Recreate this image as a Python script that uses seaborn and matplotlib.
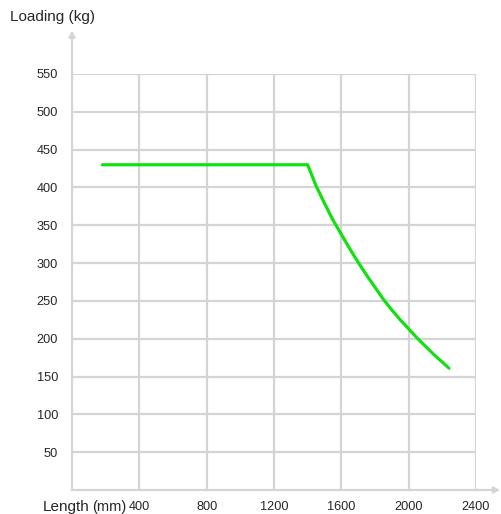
import matplotlib
matplotlib.use("Agg")
import matplotlib.pyplot as plt
import seaborn as sns
import pandas as pd

# Load curve: arm length (mm) vs. permitted load (kg)
length_mm = [180, 1400, 1450, 1500, 1550, 1600, 1650, 1700, 1750, 1800, 1850,
             1900, 1950, 2000, 2050, 2100, 2150, 2200, 2240]
loading_kg = [430, 430, 402, 379, 357, 338, 319, 301, 284, 268, 252,
              238, 225, 213, 201, 190, 179, 169, 161]

x_ticks = [400, 800, 1200, 1600, 2000, 2400]
y_ticks = [50, 100, 150, 200, 250, 300, 350, 400, 450, 500, 550]

sns.set_style("white")
plt.rcParams["font.family"] = ["Liberation Sans", "DejaVu Sans"]

W, H = 502, 514
fig = plt.figure(figsize=(W / 100, H / 100), dpi=100)
ax = fig.add_axes([72 / W, (H - 490) / H, (476 - 72) / W, (490 - 74) / H])

grid_c = "#d4d4d4"
df = pd.DataFrame({"length": length_mm, "loading": loading_kg})
sns.lineplot(data=df, x="length", y="loading", ax=ax, color="#11e011",
             linewidth=2.3, zorder=3)

ax.set_xlim(0, 2400)
ax.set_ylim(0, 550)
ax.set_xticks(x_ticks)
ax.set_yticks(y_ticks)
ax.set_xticklabels([str(v) for v in x_ticks], fontsize=9.2)
ax.set_yticklabels([str(v) for v in y_ticks], fontsize=9.2)
ax.set_xlabel("")
ax.set_ylabel("")

ax.grid(True, color=grid_c, linewidth=1.6)
ax.tick_params(axis="y", length=7, width=1.6, color=grid_c, pad=3)
ax.tick_params(axis="x", length=0, pad=8)
for s in ["top", "right"]:
    ax.spines[s].set_visible(False)
for s in ["left", "bottom"]:
    ax.spines[s].set_color(grid_c)
    ax.spines[s].set_linewidth(1.6)

# Axis arrows
ax.annotate("", xy=(0, 1.105), xytext=(0, 1.0), xycoords="axes fraction",
            arrowprops=dict(arrowstyle="-|>", color=grid_c, lw=1.6,
                            mutation_scale=9, shrinkA=0, shrinkB=0),
            annotation_clip=False)
ax.annotate("", xy=(1.06, 0), xytext=(1.0, 0), xycoords="axes fraction",
            arrowprops=dict(arrowstyle="-|>", color=grid_c, lw=1.6,
                            mutation_scale=9, shrinkA=0, shrinkB=0),
            annotation_clip=False)

fig.text(10 / W, 1 - 17 / H, "Loading (kg)", fontsize=11, va="center", ha="left")
fig.text(43 / W, 1 - 507 / H, "Length", fontsize=11, va="center", ha="left")
fig.text(92 / W, 1 - 507 / H, "(mm)", fontsize=10.5, va="center", ha="left")

fig.savefig("out.png", dpi=100)
